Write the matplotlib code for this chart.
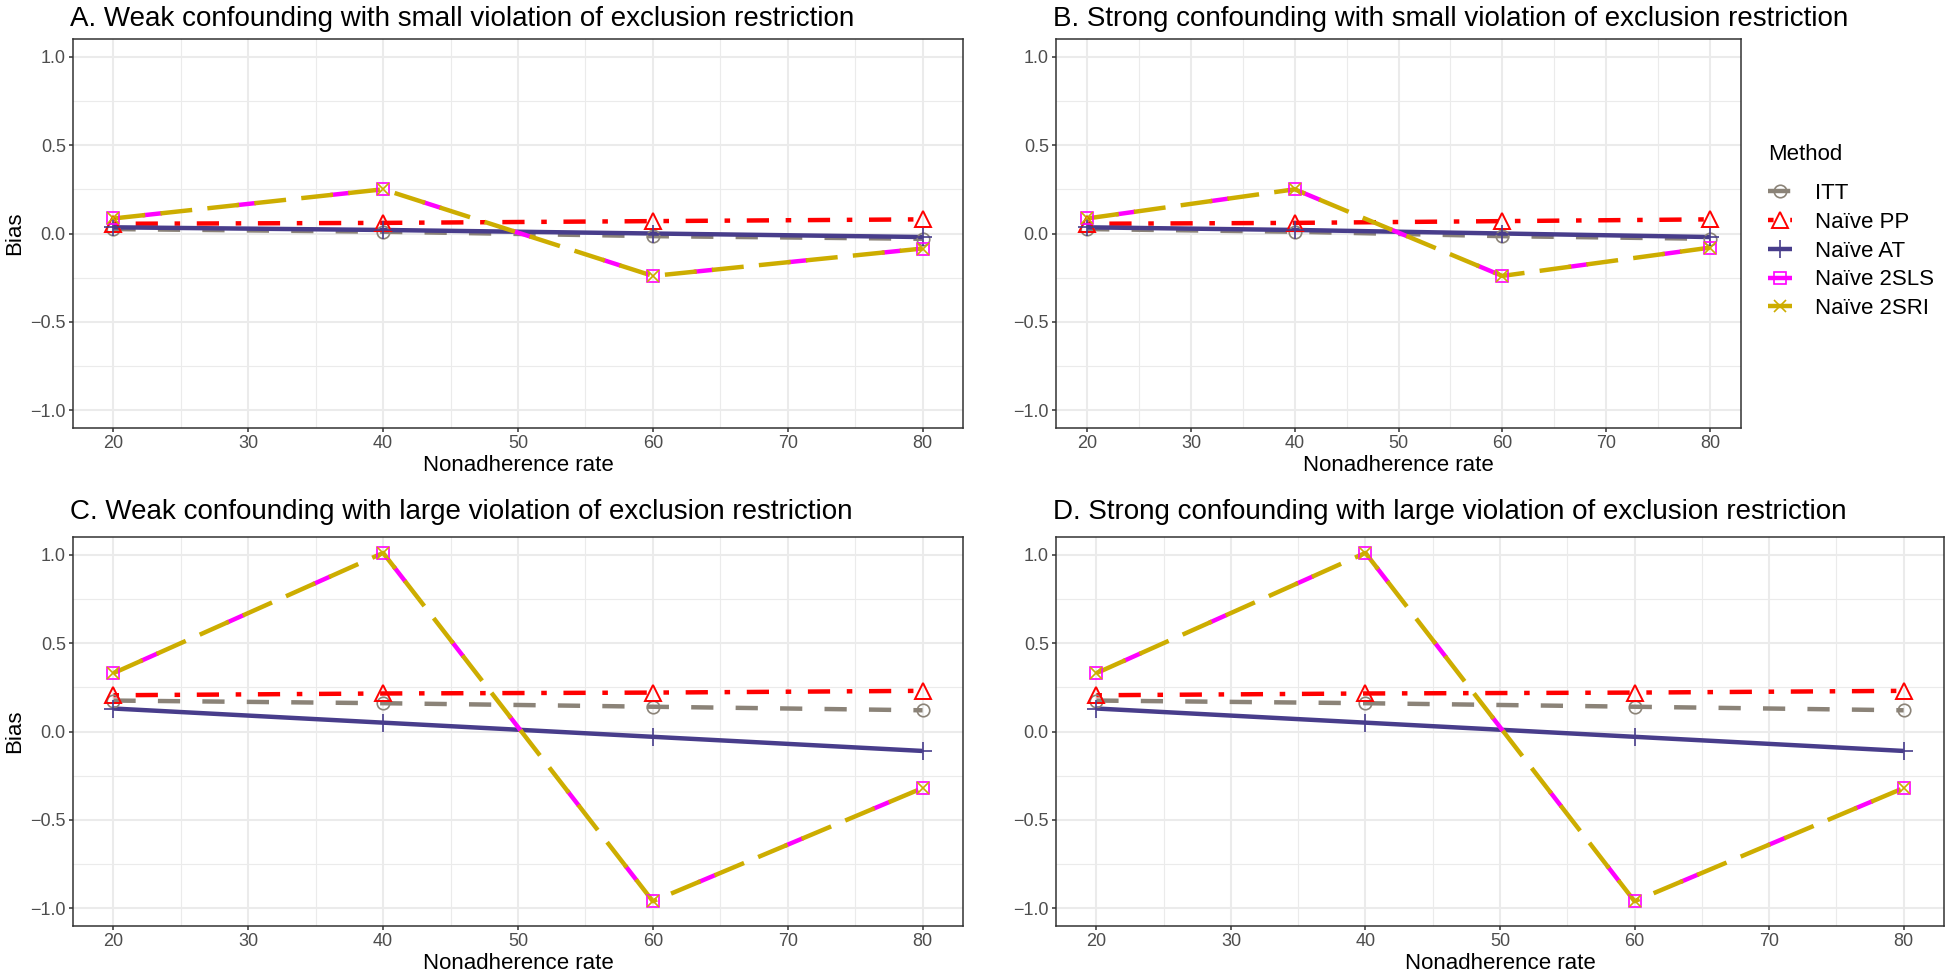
import numpy as np
import matplotlib
matplotlib.use("Agg")
import matplotlib.pyplot as plt
from matplotlib.lines import Line2D
from matplotlib.ticker import MultipleLocator, FuncFormatter

plt.rcParams['font.family'] = ['Liberation Sans', 'DejaVu Sans']
plt.rcParams['lines.scale_dashes'] = False

rates = [20, 40, 60, 80]
methods = ['ITT', 'Naïve PP', 'Naïve AT', 'Naïve 2SLS', 'Naïve 2SRI']

# bias values
bias_a = {
    'ITT':        [0.025, 0.010, -0.015, -0.030],
    'Naïve PP':   [0.055, 0.060, 0.070, 0.080],
    'Naïve AT':   [0.035, 0.020, 0.000, -0.020],
    'Naïve 2SLS': [0.085, 0.250, -0.240, -0.085],
    'Naïve 2SRI': [0.085, 0.250, -0.240, -0.085],
}
bias_b = {
    'ITT':        [0.025, 0.010, -0.015, -0.030],
    'Naïve PP':   [0.055, 0.060, 0.070, 0.080],
    'Naïve AT':   [0.035, 0.020, 0.000, -0.020],
    'Naïve 2SLS': [0.085, 0.250, -0.240, -0.080],
    'Naïve 2SRI': [0.085, 0.250, -0.240, -0.080],
}
bias_c = {
    'ITT':        [0.175, 0.160, 0.140, 0.120],
    'Naïve PP':   [0.205, 0.215, 0.220, 0.230],
    'Naïve AT':   [0.130, 0.050, -0.030, -0.110],
    'Naïve 2SLS': [0.330, 1.010, -0.960, -0.320],
    'Naïve 2SRI': [0.330, 1.010, -0.960, -0.320],
}
bias_d = {
    'ITT':        [0.175, 0.160, 0.140, 0.120],
    'Naïve PP':   [0.205, 0.215, 0.220, 0.230],
    'Naïve AT':   [0.130, 0.050, -0.030, -0.110],
    'Naïve 2SLS': [0.330, 1.010, -0.960, -0.320],
    'Naïve 2SRI': [0.330, 1.010, -0.960, -0.320],
}

titles = [
    'A. Weak confounding with small violation of exclusion restriction',
    'B. Strong confounding with small violation of exclusion restriction',
    'C. Weak confounding with large violation of exclusion restriction',
    'D. Strong confounding with large violation of exclusion restriction',
]

styles = {
    'ITT':        dict(color='#8B8378', ls=(0, (16, 16)), marker='o', mfc='none', ms=9, mew=1.2),
    'Naïve PP':   dict(color='#FF0000', ls=(0, (4, 12, 16, 12)), marker='^', mfc='none', ms=11, mew=1.4),
    'Naïve AT':   dict(color='#483D8B', ls='-', marker='+', ms=13, mew=1.2),
    'Naïve 2SLS': dict(color='#FF00FF', ls=(47, (14, 54)), marker='s', mfc='none', ms=8.5, mew=1.2),
    'Naïve 2SRI': dict(color='#CDAD00', ls=(0, (23, 11)), marker='x', ms=8, mew=1.2),
}

W, H = 1946, 975
fig = plt.figure(figsize=(W / 100, H / 100), dpi=100)

def box(l, r, t, b):
    return [l / W, 1 - b / H, (r - l) / W, (b - t) / H]

panels = [
    (box(73, 963, 39, 428), bias_a),
    (box(1056, 1741, 39, 428), bias_b),
    (box(73, 963, 537, 926), bias_c),
    (box(1056, 1944, 537, 926), bias_d),
]

def line_kw(m, legend=False):
    st = styles[m]
    ls = '-' if (legend and m == 'Naïve 2SLS') else st['ls']
    return dict(color=st['color'], lw=3.2, ls=ls, solid_capstyle='butt', dash_capstyle='butt')

def marker_kw(m):
    st = styles[m]
    return dict(marker=st['marker'], ms=st['ms'], mew=st['mew'],
                mec=st['color'], mfc=st.get('mfc', st['color']))

for i, (rect, data) in enumerate(panels):
    ax = fig.add_axes(rect)
    for m in methods:
        ax.plot(rates, data[m], zorder=3, **line_kw(m))
    for m in methods:
        ax.plot(rates, data[m], linestyle='none', zorder=4, **marker_kw(m))

    ax.set_xlim(17, 83)
    ax.set_ylim(-1.1, 1.1)
    ax.xaxis.set_major_locator(MultipleLocator(10))
    ax.xaxis.set_minor_locator(MultipleLocator(5))
    ax.yaxis.set_major_locator(MultipleLocator(0.5))
    ax.yaxis.set_minor_locator(MultipleLocator(0.25))
    ax.yaxis.set_major_formatter(FuncFormatter(lambda v, p: f'{v:.1f}'.replace('-', '\u2212')))
    ax.grid(which='major', color='#EBEBEB', lw=1.5, zorder=0)
    ax.grid(which='minor', color='#EBEBEB', lw=0.8, zorder=0)
    ax.set_axisbelow(True)
    for s in ax.spines.values():
        s.set_color('#333333')
        s.set_linewidth(1.1)
    ax.tick_params(which='major', length=3.2, width=1.1, color='#333333',
                   labelsize=13, labelcolor='#4D4D4D', pad=2)
    ax.tick_params(which='minor', length=0)
    ax.set_xlabel('Nonadherence rate', fontsize=16, labelpad=2)
    if i in (0, 2):
        ax.set_ylabel('Bias', fontsize=16, labelpad=4)
    l = rect[0] * W
    base = 26 if i < 2 else 519
    fig.text((l - 3) / W, 1 - base / H, titles[i], fontsize=20, va='baseline', ha='left')

handles = [Line2D([], [], **line_kw(m, legend=True), **marker_kw(m)) for m in methods]
fig.text(1768 / W, 1 - 155 / H, 'Method', fontsize=16, ha='left', va='center')
leg = fig.legend(handles, methods, loc='upper left',
                 bbox_to_anchor=(1768 / W, 1 - 183 / H), frameon=False,
                 fontsize=16, handlelength=1.1,
                 handletextpad=1.0, labelspacing=0.35,
                 borderpad=0, borderaxespad=0)

fig.savefig('out.png', dpi=100)
